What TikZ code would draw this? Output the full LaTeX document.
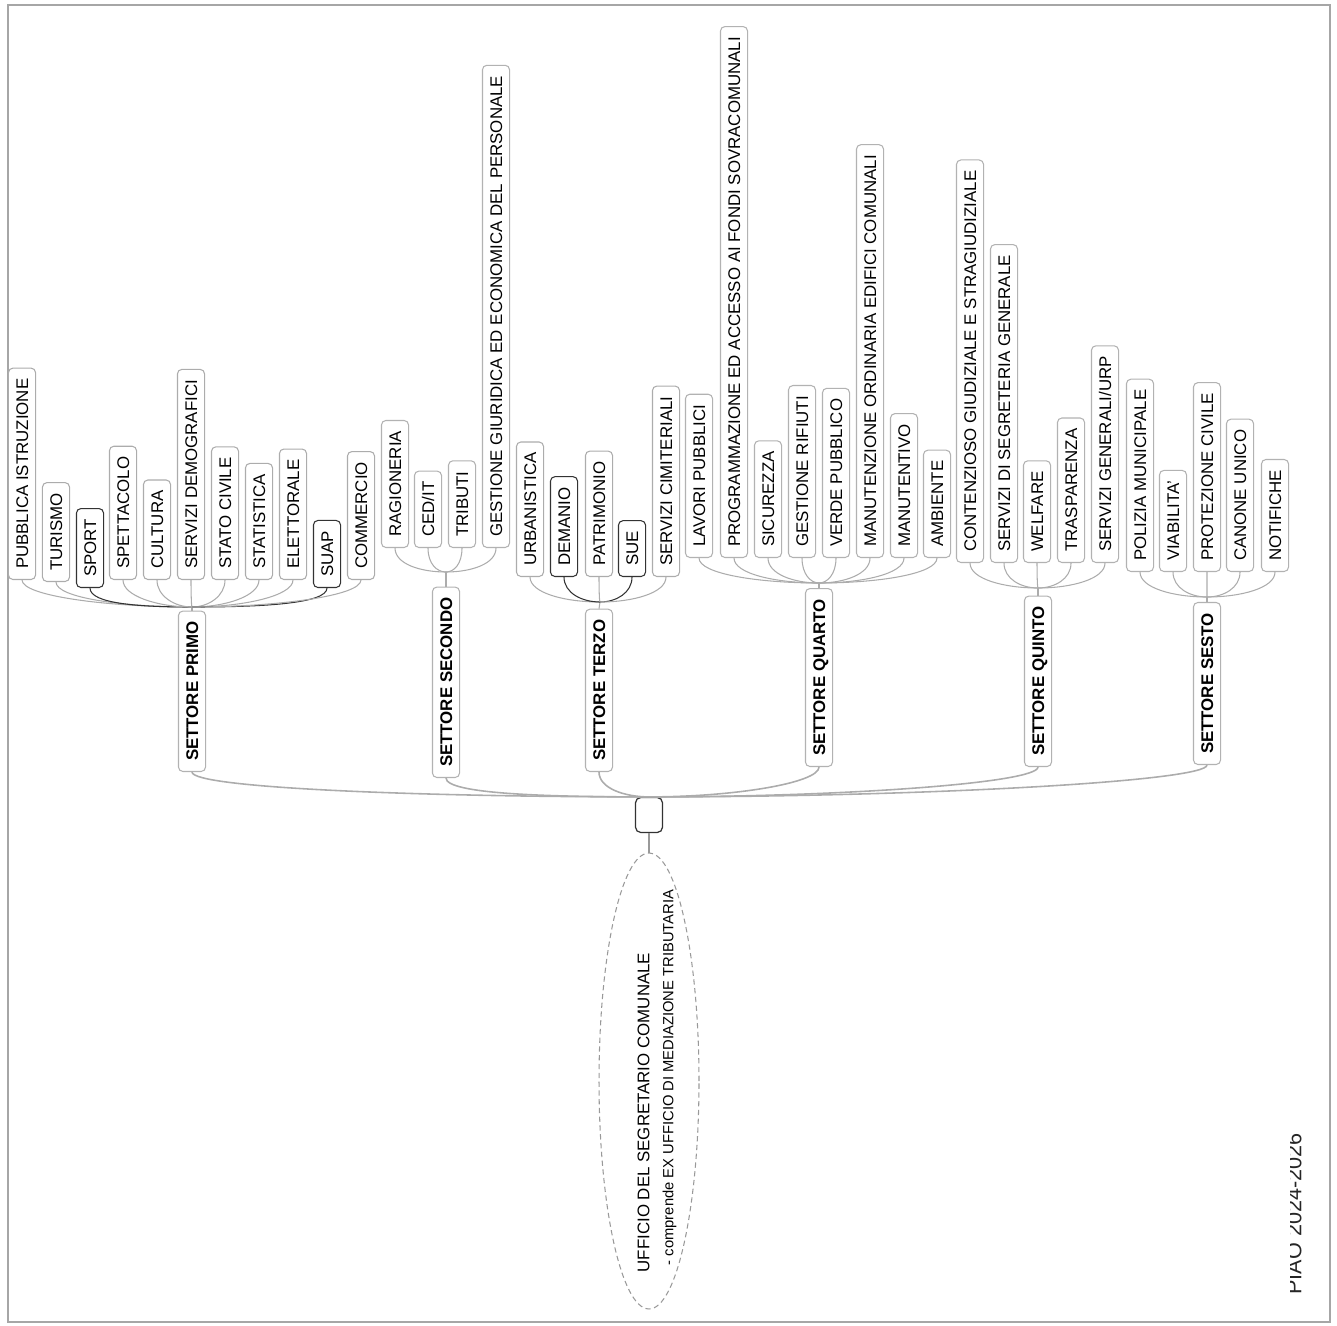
\documentclass[tikz,border=0pt]{standalone}
\usepackage{fontspec}
\setmainfont{Liberation Sans}
\usepackage{tikz}
\usetikzlibrary{positioning,shapes.geometric,calc}

\newcommand{\leaffont}{\fontsize{9.6}{11}\selectfont}

\begin{document}
\begin{tikzpicture}[x=0.02cm,y=-0.02cm,
  leaf/.style={draw=gray!60,line width=0.6pt,rounded corners=2.5pt,fill=white,
    rotate=90,anchor=west,font=\leaffont,text height=7pt,text depth=0pt,
    inner xsep=6pt,inner ysep=4.2pt},
  sett/.style={leaf,font=\leaffont\bfseries},
  conn/.style={gray!65,line width=0.6pt}]
  \useasboundingbox (0,0) rectangle (1337,1325);
  % page frame
  \draw[gray!70,line width=0.9pt] (8,5) rectangle (1330,1322);

  % settore primo
  \node[sett] (primo) at (192,772) {SETTORE PRIMO};
  \coordinate (j1) at (192,607);
  \draw[conn] (primo.east) -- (j1);
  \foreach \n/\x/\y/\c/\t in {pubistr/22/580/gray!65/PUBBLICA ISTRUZIONE,
      turismo/56/582/gray!65/TURISMO, sport/90/588/black!80/SPORT,
      spett/123/580/gray!65/SPETTACOLO, cultura/157/580/gray!65/CULTURA,
      servdem/191/580/gray!65/SERVIZI DEMOGRAFICI, statociv/225/580/gray!65/STATO CIVILE,
      statist/259/580/gray!65/STATISTICA, elett/293/580/gray!65/ELETTORALE,
      suap/327/588/black!80/SUAP, commercio/361/580/gray!65/COMMERCIO}{
    \node[leaf,draw=\c] (\n) at (\x,\y) {\t};
    \draw[conn,draw=\c] (\n.west) .. controls +(0,16) and ($(\n.west |- j1)!0.5!(j1)$) .. (j1);
  }

  % settore secondo
  \node[sett] (secondo) at (446,778) {SETTORE SECONDO};
  \coordinate (j2) at (446,572);
  \draw[conn] (secondo.east) -- (j2);
  \foreach \n/\x/\y/\t in {ragion/395/548/RAGIONERIA, cedit/428/548/{CED/IT},
      tributi/462/548/TRIBUTI,
      gestpers/496/548/GESTIONE GIURIDICA ED ECONOMICA DEL PERSONALE}{
    \node[leaf] (\n) at (\x,\y) {\t};
    \draw[conn] (\n.west) .. controls +(0,16) and ($(\n.west |- j2)!0.5!(j2)$) .. (j2);
  }

  % settore terzo
  \node[sett] (terzo) at (599,772) {SETTORE TERZO};
  \coordinate (j3) at (600,602);
  \draw[conn] (terzo.east) -- (j3);
  \foreach \n/\x/\y/\c/\t in {urban/530/577/gray!65/URBANISTICA,
      demanio/564/577/black!80/DEMANIO, patrim/599/577/gray!65/PATRIMONIO,
      sue/632/577/black!80/SUE, cimit/666/577/gray!65/SERVIZI CIMITERIALI}{
    \node[leaf,draw=\c] (\n) at (\x,\y) {\t};
    \draw[conn,draw=\c] (\n.west) .. controls +(0,16) and ($(\n.west |- j3)!0.5!(j3)$) .. (j3);
  }

  % settore quarto
  \node[sett] (quarto) at (819,767) {SETTORE QUARTO};
  \coordinate (j4) at (819,583);
  \draw[conn] (quarto.east) -- (j4);
  \foreach \n/\x/\y/\t in {lavori/699/558/LAVORI PUBBLICI,
      program/734/558/PROGRAMMAZIONE ED ACCESSO AI FONDI SOVRACOMUNALI,
      sicur/768/558/SICUREZZA, rifiuti/802/558/GESTIONE RIFIUTI,
      verde/836/558/VERDE PUBBLICO,
      manord/870/558/MANUTENZIONE ORDINARIA EDIFICI COMUNALI,
      manutent/904/558/MANUTENTIVO, ambiente/937/558/AMBIENTE}{
    \node[leaf] (\n) at (\x,\y) {\t};
    \draw[conn] (\n.west) .. controls +(0,16) and ($(\n.west |- j4)!0.5!(j4)$) .. (j4);
  }

  % settore quinto
  \node[sett] (quinto) at (1038,767) {SETTORE QUINTO};
  \coordinate (j5) at (1038,588);
  \draw[conn] (quinto.east) -- (j5);
  \foreach \n/\x/\y/\t in {contenz/970/563/CONTENZIOSO GIUDIZIALE E STRAGIUDIZIALE,
      segrgen/1004/563/SERVIZI DI SEGRETERIA GENERALE, welfare/1037/563/WELFARE,
      traspar/1071/563/TRASPARENZA, urp/1105/563/{SERVIZI GENERALI/URP}}{
    \node[leaf] (\n) at (\x,\y) {\t};
    \draw[conn] (\n.west) .. controls +(0,16) and ($(\n.west |- j5)!0.5!(j5)$) .. (j5);
  }

  % settore sesto
  \node[sett] (sesto) at (1207,765) {SETTORE SESTO};
  \coordinate (j6) at (1207,597);
  \draw[conn] (sesto.east) -- (j6);
  \foreach \n/\x/\y/\t in {polizia/1140/572/POLIZIA MUNICIPALE,
      viabil/1173/572/VIABILITA', protciv/1207/572/PROTEZIONE CIVILE,
      canone/1240/572/CANONE UNICO, notif/1275/572/NOTIFICHE}{
    \node[leaf] (\n) at (\x,\y) {\t};
    \draw[conn] (\n.west) .. controls +(0,16) and ($(\n.west |- j6)!0.5!(j6)$) .. (j6);
  }

  % hub and segretario
  \node[draw=black!80,line width=0.7pt,rounded corners=3pt,minimum width=0.54cm,
    minimum height=0.7cm,inner sep=0pt] (hub) at (649,815) {};
  \foreach \s in {primo,secondo,terzo,quarto,quinto,sesto}
    \draw[conn,line width=0.9pt] (\s.west) .. controls +(0,16) and ($(\s.west |- hub.north)!0.5!(hub.north)$) .. (hub.north);
  \node[ellipse,draw=gray!80,densely dashed,line width=0.6pt,minimum width=2cm,
    minimum height=9.12cm,inner sep=0pt] (segr) at (649,1081) {};
  \draw[conn,draw=gray!80] (hub.south) -- (segr.north);
  \node[rotate=90,align=left,font=\fontsize{9.6}{13.6}\selectfont] (segrtxt) at (657,1081)
    {UFFICIO DEL SEGRETARIO COMUNALE\\{\fontsize{8.4}{10}\selectfont\hspace*{4pt}- comprende EX UFFICIO DI MEDIAZIONE TRIBUTARIA}};

  % cut page header
  \begin{scope}
    \clip (1290,1100) rectangle (1325,1318);
    \node[rotate=90,font=\fontsize{12.3}{14}\selectfont,text=black!85] (piao) at (1294,1214) {PIAO 2024-2026};
  \end{scope}
\end{tikzpicture}
\end{document}
